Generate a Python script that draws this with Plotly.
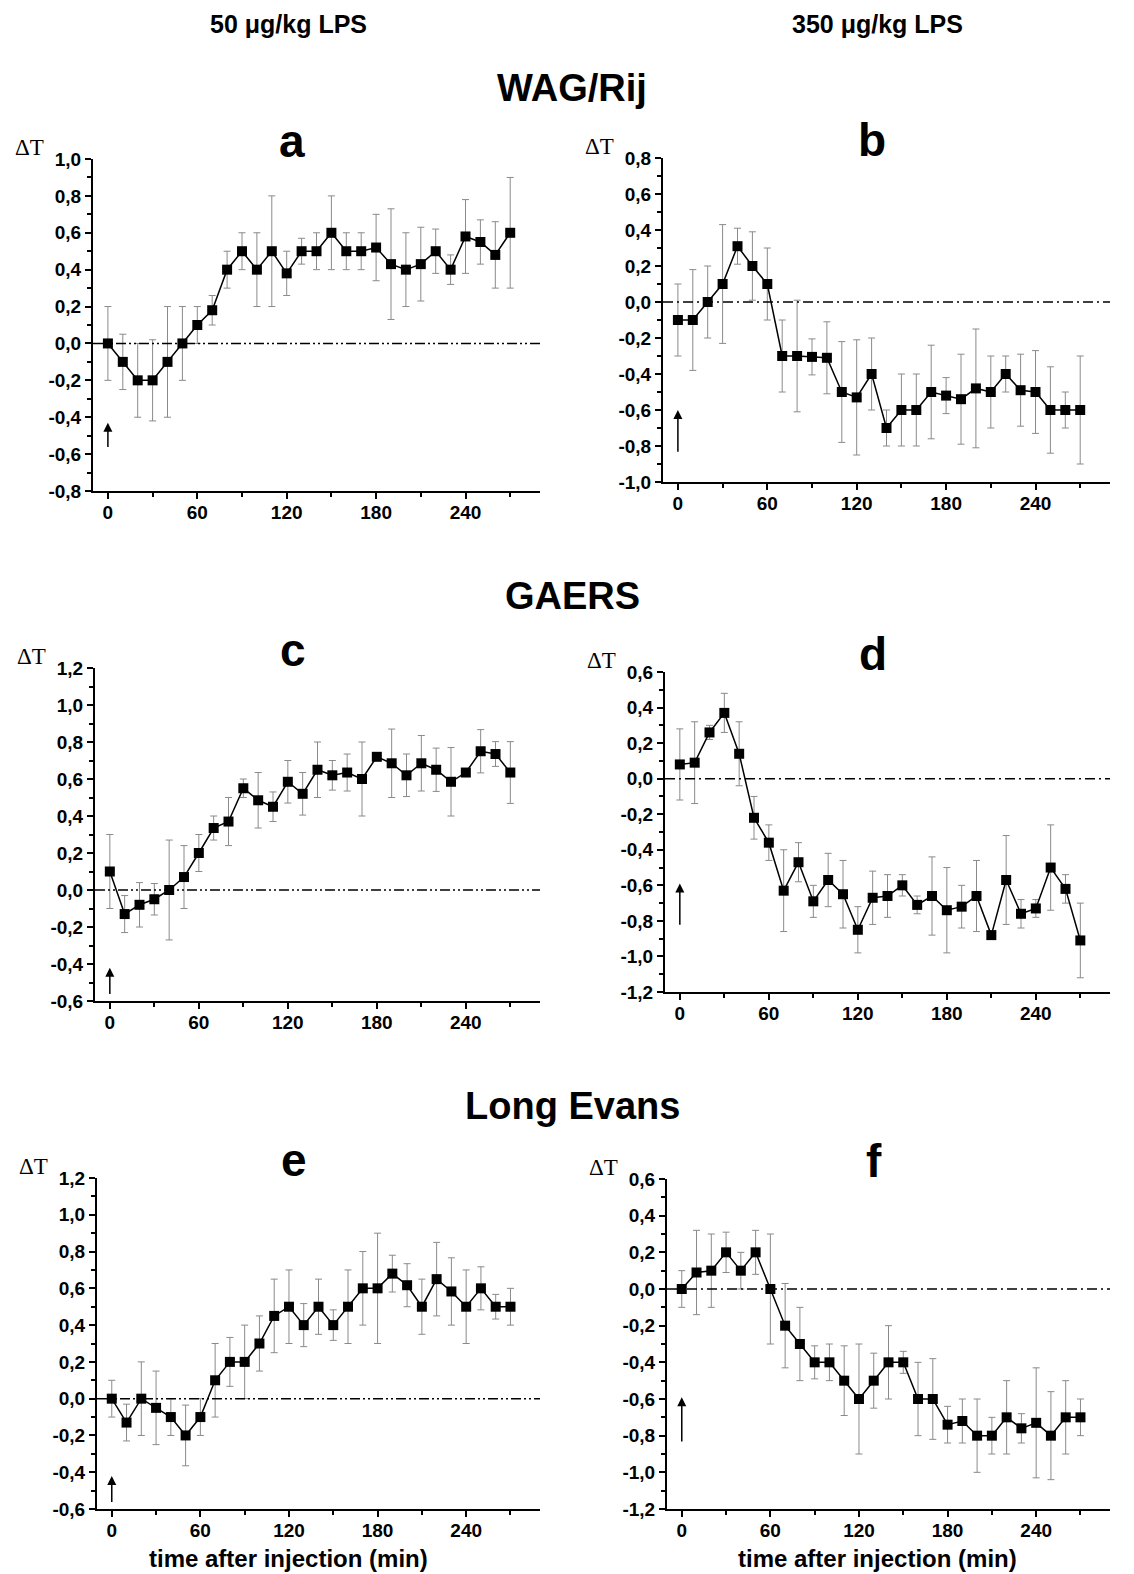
import plotly.graph_objects as go

W, H = 1134, 1574

# ---------------- data ----------------
TIME = [0, 10, 20, 30, 40, 50, 60, 70, 80, 90, 100, 110, 120, 130, 140,
        150, 160, 170, 180, 190, 200, 210, 220, 230, 240, 250, 260, 270]

# a: WAG/Rij, 50 ug/kg
A_MEAN = [0.0, -0.1, -0.2, -0.2, -0.1, 0.0, 0.1, 0.18, 0.4, 0.5, 0.4, 0.5, 0.38, 0.5,
          0.5, 0.6, 0.5, 0.5, 0.52, 0.43, 0.4, 0.43, 0.5, 0.4, 0.58, 0.55, 0.48, 0.6]
A_ERR = [0.2, 0.15, 0.2, 0.22, 0.3, 0.2, 0.1, 0.08, 0.1, 0.1, 0.2, 0.3, 0.12, 0.07,
         0.1, 0.2, 0.1, 0.1, 0.18, 0.3, 0.2, 0.2, 0.12, 0.08, 0.2, 0.12, 0.18, 0.3]
# b: WAG/Rij, 350 ug/kg
B_MEAN = [-0.1, -0.1, 0.0, 0.1, 0.31, 0.2, 0.1, -0.3, -0.3, -0.305, -0.31, -0.5, -0.53, -0.4,
          -0.7, -0.6, -0.6, -0.5, -0.52, -0.54, -0.48, -0.5, -0.4, -0.49, -0.5, -0.6, -0.6, -0.6]
B_ERR = [0.2, 0.28, 0.2, 0.33, 0.1, 0.19, 0.2, 0.2, 0.31, 0.1, 0.2, 0.28, 0.32, 0.2,
         0.1, 0.2, 0.2, 0.26, 0.1, 0.25, 0.33, 0.2, 0.1, 0.2, 0.23, 0.24, 0.1, 0.3]
# c: GAERS, 50 ug/kg
C_MEAN = [0.1, -0.13, -0.08, -0.05, 0.0, 0.07, 0.2, 0.335, 0.37, 0.55, 0.485, 0.45, 0.585, 0.52,
          0.65, 0.62, 0.635, 0.6, 0.72, 0.685, 0.62, 0.685, 0.65, 0.585, 0.635, 0.75, 0.735, 0.635]
C_ERR = [0.2, 0.1, 0.12, 0.085, 0.27, 0.17, 0.1, 0.065, 0.13, 0.05, 0.15, 0.08, 0.115, 0.115,
         0.15, 0.08, 0.1, 0.2, 0.0, 0.185, 0.115, 0.15, 0.117, 0.185, 0.02, 0.117, 0.067, 0.167]
# d: GAERS, 350 ug/kg
D_MEAN = [0.08, 0.09, 0.26, 0.37, 0.14, -0.22, -0.36, -0.63, -0.47, -0.69, -0.57, -0.65, -0.85, -0.67,
          -0.66, -0.6, -0.71, -0.66, -0.74, -0.72, -0.66, -0.88, -0.57, -0.76, -0.73, -0.5, -0.62, -0.91]
D_ERR = [0.2, 0.23, 0.04, 0.11, 0.18, 0.12, 0.1, 0.23, 0.11, 0.09, 0.15, 0.19, 0.13, 0.15,
         0.12, 0.06, 0.05, 0.22, 0.24, 0.12, 0.2, 0.0, 0.25, 0.08, 0.05, 0.24, 0.08, 0.21]
# e: Long Evans, 50 ug/kg
E_MEAN = [0.0, -0.13, 0.0, -0.05, -0.1, -0.2, -0.1, 0.1, 0.2, 0.2, 0.3, 0.45, 0.5, 0.4,
          0.5, 0.4, 0.5, 0.6, 0.6, 0.68, 0.617, 0.5, 0.65, 0.583, 0.5, 0.6, 0.5, 0.5]
E_ERR = [0.1, 0.1, 0.2, 0.2, 0.1, 0.165, 0.1, 0.2, 0.133, 0.2, 0.15, 0.2, 0.2, 0.117,
         0.15, 0.083, 0.2, 0.2, 0.3, 0.1, 0.117, 0.15, 0.2, 0.183, 0.2, 0.117, 0.067, 0.1]
# f: Long Evans, 350 ug/kg
F_MEAN = [0.0, 0.09, 0.1, 0.2, 0.1, 0.2, 0.0, -0.2, -0.3, -0.4, -0.4, -0.5, -0.6, -0.5,
          -0.4, -0.4, -0.6, -0.6, -0.74, -0.72, -0.8, -0.8, -0.7, -0.76, -0.73, -0.8, -0.7, -0.7]
F_ERR = [0.1, 0.23, 0.2, 0.11, 0.1, 0.12, 0.3, 0.23, 0.2, 0.09, 0.1, 0.19, 0.3, 0.15,
         0.2, 0.06, 0.2, 0.22, 0.1, 0.12, 0.2, 0.1, 0.2, 0.08, 0.3, 0.24, 0.2, 0.1]

X_TICKS = [0, 60, 120, 180, 240]
X_TICKTEXT = ["0", "60", "120", "180", "240"]

Y_TICKS_A = [-0.8, -0.6, -0.4, -0.2, 0.0, 0.2, 0.4, 0.6, 0.8, 1.0]
Y_TEXT_A = ["-0,8", "-0,6", "-0,4", "-0,2", "0,0", "0,2", "0,4", "0,6", "0,8", "1,0"]
Y_TICKS_B = [-1.0, -0.8, -0.6, -0.4, -0.2, 0.0, 0.2, 0.4, 0.6, 0.8]
Y_TEXT_B = ["-1,0", "-0,8", "-0,6", "-0,4", "-0,2", "0,0", "0,2", "0,4", "0,6", "0,8"]
Y_TICKS_POS = [-0.6, -0.4, -0.2, 0.0, 0.2, 0.4, 0.6, 0.8, 1.0, 1.2]
Y_TEXT_POS = ["-0,6", "-0,4", "-0,2", "0,0", "0,2", "0,4", "0,6", "0,8", "1,0", "1,2"]
Y_TICKS_NEG = [-1.2, -1.0, -0.8, -0.6, -0.4, -0.2, 0.0, 0.2, 0.4, 0.6]
Y_TEXT_NEG = ["-1,2", "-1,0", "-0,8", "-0,6", "-0,4", "-0,2", "0,0", "0,2", "0,4", "0,6"]

COL_HEADERS = ["50 \u03bcg/kg LPS", "350 \u03bcg/kg LPS"]
ROW_TITLES = ["WAG/Rij", "GAERS", "Long Evans"]
PANEL_LETTERS = ["a", "b", "c", "d", "e", "f"]
X_TITLE = "time after injection (min)"
Y_LABEL = "\u0394T"

# ---------------- layout (pixel boxes of each panel) ----------------
FONT = "Liberation Sans Narrow, Liberation Sans, Arial, Helvetica, sans-serif"
FONT_WIDE = "Liberation Sans, Arial, Helvetica, sans-serif"
SERIF = "Liberation Serif, Times New Roman, serif"


def px(x):
    return x / W


def py(y):
    return 1 - y / H


panels = [
    # mean, err, yrange, ticks, ticktext, box (x0,x1,ytop,ybot), zero dash, arrow (tail, head)
    (A_MEAN, A_ERR, [-0.8, 1.0], Y_TICKS_A, Y_TEXT_A, (93, 540, 159, 491), "10px,3px,2px,3px,2px,3px", (-0.57, -0.43)),
    (B_MEAN, B_ERR, [-1.0, 0.8], Y_TICKS_B, Y_TEXT_B, (663, 1110, 158, 482), "10px,4px,2px,4px", (-0.84, -0.6)),
    (C_MEAN, C_ERR, [-0.6, 1.2], Y_TICKS_POS, Y_TEXT_POS, (95, 540, 668, 1001), "10px,3px,2px,3px,2px,3px", (-0.57, -0.42)),
    (D_MEAN, D_ERR, [-1.2, 0.6], Y_TICKS_NEG, Y_TEXT_NEG, (665, 1110, 672, 992), "10px,4px,2px,4px", (-0.83, -0.59)),
    (E_MEAN, E_ERR, [-0.6, 1.2], Y_TICKS_POS, Y_TEXT_POS, (97, 540, 1178, 1509), "10px,3px,2px,3px,2px,3px", (-0.57, -0.42)),
    (F_MEAN, F_ERR, [-1.2, 0.6], Y_TICKS_NEG, Y_TEXT_NEG, (667, 1110, 1179, 1509), "10px,4px,2px,4px", (-0.84, -0.59)),
]

fig = go.Figure()
layout = dict(
    width=W, height=H, autosize=False,
    margin=dict(l=0, r=0, t=0, b=0, autoexpand=False),
    paper_bgcolor="white", plot_bgcolor="white",
    showlegend=False,
    font=dict(family=FONT_WIDE, color="black"),
)
shapes = []
annotations = []

for i, (mean, err, yr, yt, ytt, box, dash, arrow) in enumerate(panels):
    n = i + 1
    xs = "x" if n == 1 else f"x{n}"
    ys = "y" if n == 1 else f"y{n}"
    xkey = "xaxis" if n == 1 else f"xaxis{n}"
    ykey = "yaxis" if n == 1 else f"yaxis{n}"
    x0, x1, yt_px, yb_px = box

    fig.add_trace(go.Scatter(
        x=TIME, y=mean, xaxis=xs, yaxis=ys,
        mode="lines+markers",
        line=dict(color="black", width=1.5),
        marker=dict(symbol="square", size=10, color="black"),
        error_y=dict(type="data", array=err, visible=True,
                     color="#8a8a8a", thickness=1, width=3.5),
        hoverinfo="skip",
    ))

    layout[xkey] = dict(
        domain=[px(x0), px(x1)], range=[-10, 290], anchor=ys,
        tickmode="array", tickvals=X_TICKS, ticktext=X_TICKTEXT,
        ticks="outside", ticklen=6, tickwidth=1.5, tickcolor="black",
        ticklabelstandoff=-3,
        minor=dict(tickmode="linear", tick0=0, dtick=30, ticks="outside",
                   ticklen=4, tickwidth=1.5, tickcolor="black"),
        showline=True, linecolor="black", linewidth=2,
        showgrid=False, zeroline=False, automargin=False,
        tickfont=dict(size=19, family=FONT, weight="bold", color="black"),
        fixedrange=True,
    )
    layout[ykey] = dict(
        domain=[py(yb_px), py(yt_px)], range=yr, anchor=xs,
        tickmode="array", tickvals=yt, ticktext=ytt,
        ticks="outside", ticklen=6, tickwidth=1.5, tickcolor="black",
        minor=dict(tickmode="linear", tick0=0, dtick=0.1, ticks="outside",
                   ticklen=4, tickwidth=1.5, tickcolor="black"),
        showline=True, linecolor="black", linewidth=2,
        showgrid=False, zeroline=False, automargin=False,
        tickfont=dict(size=19, family=FONT, weight="bold", color="black"),
        fixedrange=True,
    )

    # dash-dot zero reference line
    shapes.append(dict(type="line", xref=f"{xs} domain", yref=ys,
                       x0=0, x1=1, y0=0, y1=0,
                       line=dict(color="black", width=1.5, dash=dash)))

    # injection arrow at t=0
    annotations.append(dict(x=0, y=arrow[1], ax=0, ay=arrow[0],
                            xref=xs, yref=ys, axref=xs, ayref=ys,
                            showarrow=True, arrowhead=2, arrowsize=1.2,
                            arrowwidth=1.5, arrowcolor="black", text=""))

    # panel letter
    cx = (x0 + x1) / 2 - 25 if n % 2 == 1 else (x0 + x1) / 2 - 15
    annotations.append(dict(x=px(cx), y=py(yt_px + 10), xref="paper", yref="paper",
                            xanchor="center", yanchor="bottom", showarrow=False,
                            text=PANEL_LETTERS[i],
                            font=dict(size=46, family=FONT_WIDE, weight="bold", color="black")))
    # delta T label
    annotations.append(dict(x=px(x0 - 64), y=py(yt_px + 3), xref="paper", yref="paper",
                            xanchor="center", yanchor="bottom", showarrow=False,
                            text=Y_LABEL,
                            font=dict(size=23, family=SERIF, color="black")))

# column headers
for cx, txt in zip([288, 877], COL_HEADERS):
    annotations.append(dict(x=px(cx), y=py(24), xref="paper", yref="paper",
                            xanchor="center", yanchor="middle", showarrow=False,
                            text=txt, font=dict(size=25, family=FONT, weight="bold", color="black")))

# row titles
for cy, txt in zip([88, 596, 1106], ROW_TITLES):
    annotations.append(dict(x=px(572), y=py(cy), xref="paper", yref="paper",
                            xanchor="center", yanchor="middle", showarrow=False,
                            text=txt, font=dict(size=38, family=FONT_WIDE, weight="bold", color="black")))

# x axis titles
for cx in [288, 877]:
    annotations.append(dict(x=px(cx), y=py(1558), xref="paper", yref="paper",
                            xanchor="center", yanchor="middle", showarrow=False,
                            text=X_TITLE, font=dict(size=24, family=FONT, weight="bold", color="black")))

layout["shapes"] = shapes
layout["annotations"] = annotations
fig.update_layout(**layout)

fig.write_html("out.html", config={"displayModeBar": False},
               post_script="document.body.style.margin='0px';document.body.style.overflow='hidden';")
